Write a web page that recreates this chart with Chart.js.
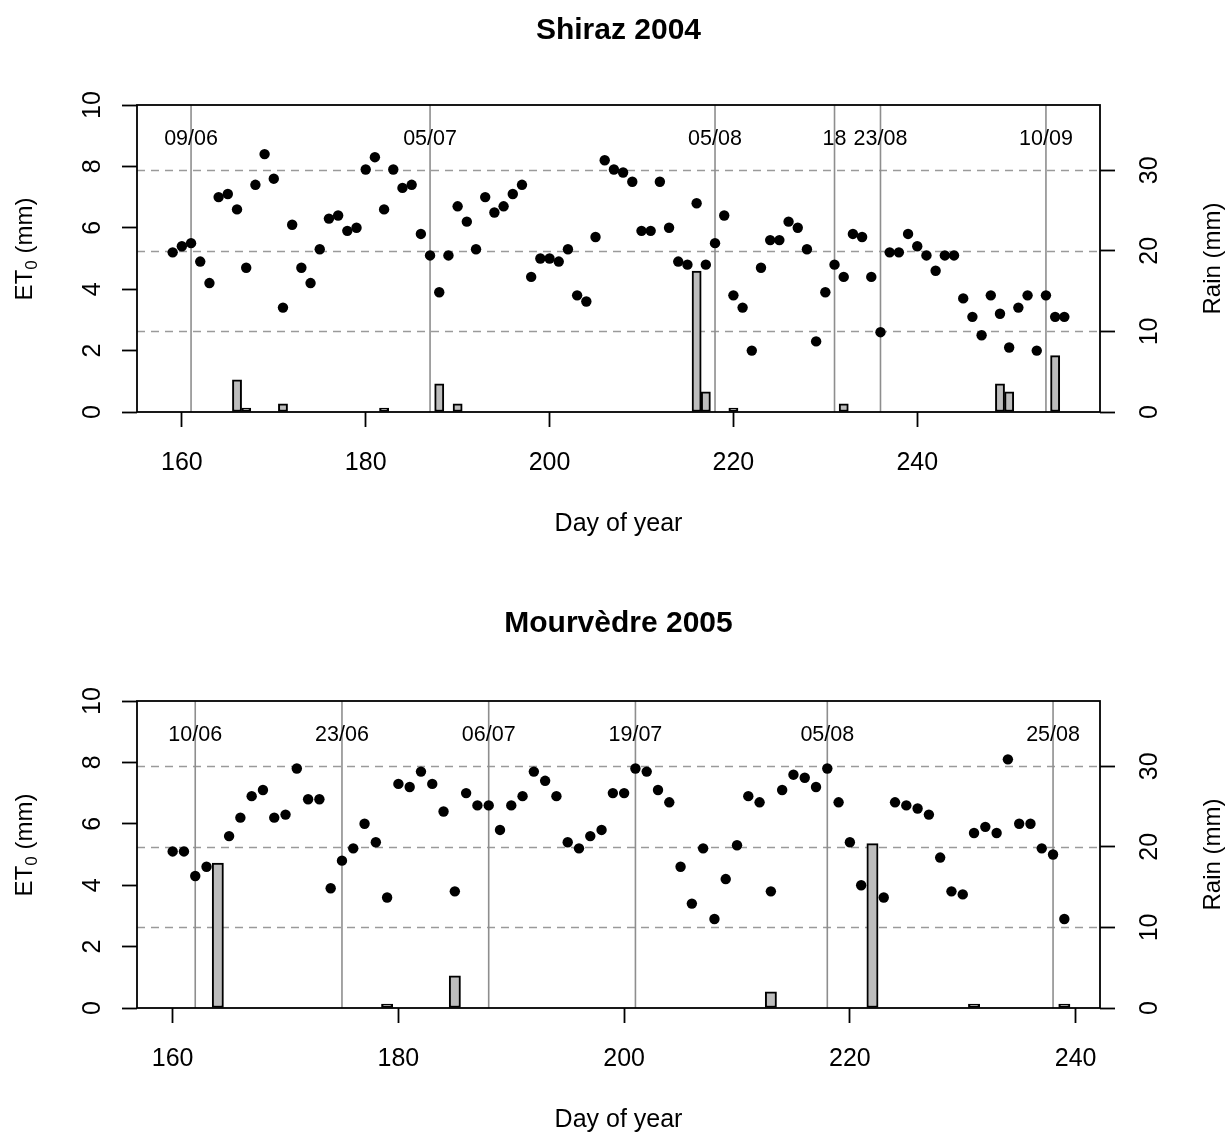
<!DOCTYPE html>
<html><head><meta charset="utf-8">
<script src="https://cdn.jsdelivr.net/npm/chart.js@4.4.1/dist/chart.umd.min.js"></script>
<style>
html,body{margin:0;padding:0;background:#fff;}
#wrap{position:relative;width:1227px;height:1133px;overflow:hidden;background:#fff;}
canvas{position:absolute;left:0;}
#c1{top:0px;}
#c2{top:596px;}
</style></head><body>
<div id="wrap"><canvas id="c1" width="1227" height="537"></canvas><canvas id="c2" width="1227" height="537"></canvas></div>
<script>
// ---------------- data ----------------
const shirazTitle = "Shiraz 2004";
const shirazDays = [159,160,161,162,163,164,165,166,167,168,
  169,170,171,172,173,174,175,176,177,178,
  179,180,181,182,183,184,185,186,187,188,
  189,190,191,192,193,194,195,196,197,198,
  199,200,201,202,203,204,205,206,207,208,
  209,210,211,212,213,214,215,216,217,218,
  219,220,221,222,223,224,225,226,227,228,
  229,230,231,232,233,234,235,236,237,238,
  239,240,241,242,243,244,245,246,247,248,
  249,250,251,252,253,254,255,256];
const shirazET0 = [5.2,5.4,5.5,4.9,4.2,7.0,7.1,6.6,4.7,7.4,
  8.4,7.6,3.4,6.1,4.7,4.2,5.3,6.3,6.4,5.9,
  6.0,7.9,8.3,6.6,7.9,7.3,7.4,5.8,5.1,3.9,
  5.1,6.7,6.2,5.3,7.0,6.5,6.7,7.1,7.4,4.4,
  5.0,5.0,4.9,5.3,3.8,3.6,5.7,8.2,7.9,7.8,
  7.5,5.9,5.9,7.5,6.0,4.9,4.8,6.8,4.8,5.5,
  6.4,3.8,3.4,2.0,4.7,5.6,5.6,6.2,6.0,5.3,
  2.3,3.9,4.8,4.4,5.8,5.7,4.4,2.6,5.2,5.2,
  5.8,5.4,5.1,4.6,5.1,5.1,3.7,3.1,2.5,3.8,
  3.2,2.1,3.4,3.8,2.0,3.8,3.1,3.1];
const shirazRainDays = [166,167,171,182,188,190,216,217,220,232,249,250,255];
const shirazRain     = [4.0,0.5,1.0,0.5,3.5,1.0,17.5,2.5,0.5,1.0,3.5,2.5,7.0];
const shirazEventDays   = [161,187,218,231,236,254];
const shirazEventLabels = ["09/06","05/07","05/08","18","23/08","10/09"];
const shirazXRange = [155.12, 259.88];

const mourvTitle = "Mourvèdre 2005";
const mourvDays = [160,161,162,163,165,166,167,168,169,170,
  171,172,173,174,175,176,177,178,179,180,
  181,182,183,184,185,186,187,188,189,190,
  191,192,193,194,195,196,197,198,199,200,
  201,202,203,204,205,206,207,208,209,210,
  211,212,213,214,215,216,217,218,219,220,
  221,223,224,225,226,227,228,229,230,231,
  232,233,234,235,236,237,238,239];
const mourvET0 = [5.1,5.1,4.3,4.6,5.6,6.2,6.9,7.1,6.2,6.3,
  7.8,6.8,6.8,3.9,4.8,5.2,6.0,5.4,3.6,7.3,
  7.2,7.7,7.3,6.4,3.8,7.0,6.6,6.6,5.8,6.6,
  6.9,7.7,7.4,6.9,5.4,5.2,5.6,5.8,7.0,7.0,
  7.8,7.7,7.1,6.7,4.6,3.4,5.2,2.9,4.2,5.3,
  6.9,6.7,3.8,7.1,7.6,7.5,7.2,7.8,6.7,5.4,
  4.0,3.6,6.7,6.6,6.5,6.3,4.9,3.8,3.7,5.7,
  5.9,5.7,8.1,6.0,6.0,5.2,5.0,2.9];
const mourvRainDays = [164,179,185,213,222,231,239];
const mourvRain     = [18.0,0.5,4.0,2.0,20.4,0.5,0.5];
const mourvEventDays   = [162,175,188,201,218,238];
const mourvEventLabels = ["10/06","23/06","06/07","19/07","05/08","25/08"];
const mourvXRange = [156.84, 242.16];

const xTicks = [160,180,200,220,240];
const et0Ticks = [0,2,4,6,8,10];
const rainTicks = [0,10,20,30];
const et0Range = [0,10];
const rainRange = [0,38.1];

const xTitle = "Day of year";
const rainTitle = "Rain (mm)";

// ---------------- drawing ----------------
const FONT = '"Liberation Sans", Arial, Helvetica, sans-serif';
const AREA = {left:137, right:1100, top:105, bottom:412};

function deco(spec){
  return {
    id:'deco',
    beforeDatasetsDraw(chart){
      const {ctx, chartArea:a, scales} = chart;
      const x = scales.x, y2 = scales.y2;
      ctx.save();
      ctx.strokeStyle = '#9a9a9a'; ctx.lineWidth = 1.5; ctx.setLineDash([8,6]);
      rainTicks.forEach(v => {
        if (v === 0) return;
        const py = Math.round(y2.getPixelForValue(v)) + 0.5;
        ctx.beginPath(); ctx.moveTo(a.left, py); ctx.lineTo(a.right, py); ctx.stroke();
      });
      ctx.setLineDash([]);
      ctx.strokeStyle = '#8e8e8e'; ctx.lineWidth = 1.6;
      spec.eventDays.forEach(d => {
        const px = x.getPixelForValue(d);
        ctx.beginPath(); ctx.moveTo(px, a.top); ctx.lineTo(px, a.bottom); ctx.stroke();
      });
      ctx.fillStyle = '#000';
      ctx.font = '21.5px ' + FONT;
      ctx.textAlign = 'center'; ctx.textBaseline = 'alphabetic';
      spec.eventDays.forEach((d,i) => {
        ctx.fillText(spec.eventLabels[i], x.getPixelForValue(d), a.top + 40);
      });
      ctx.restore();
    },
    afterDraw(chart){
      const {ctx, chartArea:a, scales} = chart;
      const x = scales.x, y = scales.y, y2 = scales.y2;
      ctx.save();
      ctx.strokeStyle = '#000'; ctx.lineWidth = 1.8;
      ctx.strokeRect(a.left, a.top, a.right - a.left, a.bottom - a.top);
      ctx.fillStyle = '#000';
      ctx.font = 'bold 30px ' + FONT;
      ctx.textAlign = 'center'; ctx.textBaseline = 'alphabetic';
      ctx.fillText(spec.title, (a.left + a.right)/2, spec.titleY);
      ctx.font = '25px ' + FONT;
      x.ticks.forEach(t => ctx.fillText(String(t.value), x.getPixelForValue(t.value), a.bottom + 57.5));
      ctx.fillText(xTitle, (a.left + a.right)/2, 530.5);
      y.ticks.forEach(t => {
        ctx.save(); ctx.translate(100, y.getPixelForValue(t.value)); ctx.rotate(-Math.PI/2);
        ctx.fillText(String(t.value), 0, 0); ctx.restore();
      });
      y2.ticks.forEach(t => {
        ctx.save(); ctx.translate(1156.5, y2.getPixelForValue(t.value)); ctx.rotate(-Math.PI/2);
        ctx.fillText(String(t.value), 0, 0); ctx.restore();
      });
      ctx.save(); ctx.translate(1219.5, (a.top + a.bottom)/2); ctx.rotate(-Math.PI/2);
      ctx.font = '24px ' + FONT; ctx.fillText(rainTitle, 0, 0); ctx.restore();
      ctx.save(); ctx.translate(31.7, a.top + 144); ctx.rotate(-Math.PI/2);
      ctx.textAlign = 'left';
      const big = '24px ' + FONT, small = '17px ' + FONT;
      ctx.font = big; const w1 = ctx.measureText('ET').width; const w3 = ctx.measureText(' (mm)').width;
      ctx.font = small; const w2 = ctx.measureText('0').width;
      let sx = -(w1 + w2 + w3)/2;
      ctx.font = big; ctx.fillText('ET', sx, 0); sx += w1;
      ctx.font = small; ctx.fillText('0', sx, 5); sx += w2;
      ctx.font = big; ctx.fillText(' (mm)', sx, 0);
      ctx.restore();
      ctx.restore();
    }
  };
}

function makeChart(id, spec){
  const pxPerDay = (AREA.right - AREA.left) / (spec.xRange[1] - spec.xRange[0]);
  const setTicks = arr => (s => { s.ticks = arr.map(v => ({value: v})); });
  const tickGrid = {display: true, offset: false, drawOnChartArea: false, drawTicks: true, tickLength: 15, tickColor: '#000', tickWidth: 1.8, color: '#000'};
  new Chart(document.getElementById(id), {
    type: 'scatter',
    data: {
      datasets: [
        {
          type: 'scatter',
          data: spec.days.map((d,i) => ({x: d, y: spec.et0[i]})),
          xAxisID: 'x', yAxisID: 'y',
          pointRadius: 5.2, pointHoverRadius: 5.2,
          backgroundColor: '#000', borderWidth: 0, showLine: false
        },
        {
          type: 'bar',
          data: spec.rainDays.map((d,i) => ({x: d, y: spec.rain[i]})),
          xAxisID: 'x', yAxisID: 'y2',
          backgroundColor: '#bdbdbd', borderColor: '#000', borderWidth: 2,
          borderSkipped: false, barThickness: pxPerDay, grouped: false
        }
      ]
    },
    options: {
      responsive: false, animation: false, events: [],
      devicePixelRatio: 1,
      layout: {padding: {top: AREA.top, left: 0, right: 0, bottom: 0}},
      plugins: {legend: {display: false}, tooltip: {enabled: false}, title: {display: false}},
      scales: {
        x: {
          type: 'linear', position: 'bottom', offset: false,
          min: spec.xRange[0], max: spec.xRange[1],
          afterBuildTicks: setTicks(xTicks),
          afterFit: s => { s.height = 537 - AREA.bottom; },
          ticks: {display: false},
          grid: tickGrid,
          border: {display: false}
        },
        y: {
          type: 'linear', position: 'left',
          min: et0Range[0], max: et0Range[1],
          afterBuildTicks: setTicks(et0Ticks),
          afterFit: s => { s.width = AREA.left; },
          ticks: {display: false},
          grid: tickGrid,
          border: {display: false}
        },
        y2: {
          type: 'linear', position: 'right',
          min: rainRange[0], max: rainRange[1],
          afterBuildTicks: setTicks(rainTicks),
          afterFit: s => { s.width = 1227 - AREA.right; },
          ticks: {display: false},
          grid: tickGrid,
          border: {display: false}
        }
      }
    },
    plugins: [deco(spec)]
  });
}

makeChart('c1', {title: shirazTitle, titleY: 38.5, days: shirazDays, et0: shirazET0, rainDays: shirazRainDays, rain: shirazRain,
  eventDays: shirazEventDays, eventLabels: shirazEventLabels, xRange: shirazXRange});
makeChart('c2', {title: mourvTitle, titleY: 36, days: mourvDays, et0: mourvET0, rainDays: mourvRainDays, rain: mourvRain,
  eventDays: mourvEventDays, eventLabels: mourvEventLabels, xRange: mourvXRange});
</script>
</body></html>
